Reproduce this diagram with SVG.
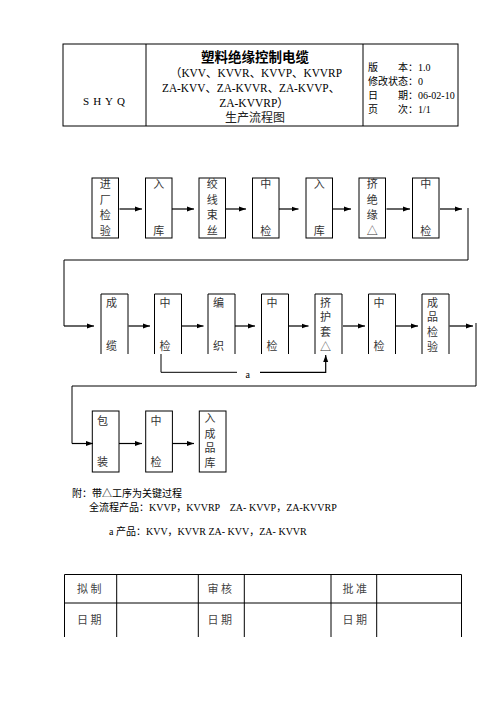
<svg xmlns="http://www.w3.org/2000/svg" width="496" height="702" viewBox="0 0 496 702">
<defs>
<marker id="ah" markerUnits="userSpaceOnUse" markerWidth="8" markerHeight="6" refX="7" refY="3" orient="auto">
<path d="M0,0.5 L7,3 L0,5.5 Z" fill="#000"/>
</marker>
<style>
.ln{fill:none;stroke:#000;stroke-width:1}
.ar{fill:none;stroke:#000;stroke-width:1.2;marker-end:url(#ah)}
.bx{fill:#fff;stroke:#000;stroke-width:1}
.ob{fill:none;stroke:#000;stroke-width:1}
.t{font-family:"Liberation Serif","Noto Sans CJK SC",serif;fill:#000}
.n{font-family:"Noto Sans CJK SC",sans-serif;font-size:11px;fill:#333;text-anchor:middle}
.s{font-family:"Liberation Serif","Noto Sans CJK SC",serif;font-size:10px;fill:#000}
.f{font-family:"Noto Sans CJK SC",sans-serif;font-size:11px;fill:#444}
</style>
</defs>
<rect width="496" height="702" fill="#fff"/>

<g id="header">
<rect x="63" y="44" width="395" height="82" class="ln"/>
<line x1="146" y1="44" x2="146" y2="126" class="ln"/>
<line x1="363" y1="44" x2="363" y2="126" class="ln"/>
<text x="106" y="105" class="t" font-size="11" text-anchor="middle" letter-spacing="4">SHYQ</text>
<text x="255" y="62" font-family="Noto Sans CJK SC,sans-serif" font-size="13.5" font-weight="bold" text-anchor="middle">塑料绝缘控制电缆</text>
<text x="170" y="77" class="t" font-size="11.5" textLength="172" lengthAdjust="spacingAndGlyphs">（KVV、KVVR、KVVP、KVVRP</text>
<text x="162" y="92" class="t" font-size="11.5" textLength="178" lengthAdjust="spacingAndGlyphs">ZA-KVV、ZA-KVVR、ZA-KVVP、</text>
<text x="254" y="107" class="t" font-size="11.5" text-anchor="middle">ZA-KVVRP）</text>
<text x="255" y="122" font-family="Noto Sans CJK SC,sans-serif" font-size="12" text-anchor="middle" fill="#222">生产流程图</text>
<text x="368" y="71" class="t" font-size="10" xml:space="preserve">版　　本：1.0</text>
<text x="368" y="85" class="t" font-size="10">修改状态：0</text>
<text x="368" y="99" class="t" font-size="10" xml:space="preserve">日　　期：06-02-10</text>
<text x="368" y="113" class="t" font-size="10" xml:space="preserve">页　　次：1/1</text>
</g>

<g id="n1"><rect x="92" y="178" width="26.5" height="60" class="bx"/>
<text class="n" x="105.3" y="188">进</text><text class="n" x="105.3" y="203.5">厂</text><text class="n" x="105.3" y="219">检</text><text class="n" x="105.3" y="234.5">验</text></g>
<g id="n2"><rect x="145.5" y="178" width="26.5" height="60" class="bx"/>
<text class="n" x="158.8" y="188">入</text><text class="n" x="158.8" y="234.5">库</text></g>
<g id="n3"><rect x="199" y="178" width="26.5" height="60" class="bx"/>
<text class="n" x="212.3" y="188">绞</text><text class="n" x="212.3" y="203.5">线</text><text class="n" x="212.3" y="219">束</text><text class="n" x="212.3" y="234.5">丝</text></g>
<g id="n4"><rect x="252.5" y="178" width="26.5" height="60" class="bx"/>
<text class="n" x="265.8" y="188">中</text><text class="n" x="265.8" y="234.5">检</text></g>
<g id="n5"><rect x="306" y="178" width="26.5" height="60" class="bx"/>
<text class="n" x="319.3" y="188">入</text><text class="n" x="319.3" y="234.5">库</text></g>
<g id="n6"><rect x="359" y="178" width="26.5" height="60" class="bx"/>
<text class="n" x="372.3" y="188">挤</text><text class="n" x="372.3" y="203.5">绝</text><text class="n" x="372.3" y="219">缘</text><text class="n" x="372.3" y="234.5">△</text></g>
<g id="n7"><rect x="412.5" y="178" width="26.5" height="60" class="bx"/>
<text class="n" x="425.8" y="188">中</text><text class="n" x="425.8" y="234.5">检</text></g>

<g id="n8"><path d="M101,354 V294 H128 V354" class="ob"/>
<text class="n" x="111.5" y="307">成</text><text class="n" x="111.5" y="350">缆</text></g>
<g id="n9"><path d="M154.5,354 V294 H181.5 V354" class="ob"/>
<text class="n" x="165" y="307">中</text><text class="n" x="165" y="350">检</text></g>
<g id="n10"><path d="M208,354 V294 H235 V354" class="ob"/>
<text class="n" x="218.5" y="307">编</text><text class="n" x="218.5" y="350">织</text></g>
<g id="n11"><path d="M261.5,354 V294 H288.5 V354" class="ob"/>
<text class="n" x="272" y="307">中</text><text class="n" x="272" y="350">检</text></g>
<g id="n12"><path d="M315,354 V294 H342 V354" class="ob"/>
<text class="n" x="325.5" y="306.5" font-size="10.5">挤</text><text class="n" x="325.5" y="321" font-size="10.5">护</text><text class="n" x="325.5" y="335.5" font-size="10.5">套</text><text class="n" x="325.5" y="350.5" font-size="10.5">△</text></g>
<g id="n13"><path d="M368.5,354 V294 H395.5 V354" class="ob"/>
<text class="n" x="379" y="307">中</text><text class="n" x="379" y="350">检</text></g>
<g id="n14"><path d="M422,354 V294 H449 V354" class="ob"/>
<text class="n" x="432.5" y="306.5" font-size="10.5">成</text><text class="n" x="432.5" y="321" font-size="10.5">品</text><text class="n" x="432.5" y="335.5" font-size="10.5">检</text><text class="n" x="432.5" y="350.5" font-size="10.5">验</text></g>

<g id="n15"><rect x="92.3" y="411" width="26.7" height="61" class="bx"/>
<text class="n" x="102.5" y="425">包</text><text class="n" x="102.5" y="466">装</text></g>
<g id="n16"><rect x="145.7" y="411" width="26.7" height="61" class="bx"/>
<text class="n" x="156" y="425">中</text><text class="n" x="156" y="466">检</text></g>
<g id="n17"><rect x="199.3" y="411" width="26.7" height="61" class="bx"/>
<text class="n" x="210" y="422" font-size="10.5">入</text><text class="n" x="210" y="437.5" font-size="10.5">成</text><text class="n" x="210" y="452" font-size="10.5">品</text><text class="n" x="210" y="466.5" font-size="10.5">库</text></g>

<g id="connectors">
<line x1="119.5" y1="209" x2="142" y2="209" class="ar"/>
<line x1="172" y1="209" x2="194" y2="209" class="ar"/>
<line x1="225.5" y1="209" x2="246" y2="209" class="ar"/>
<line x1="279" y1="209" x2="298.5" y2="209" class="ar"/>
<line x1="332.5" y1="209" x2="351" y2="209" class="ar"/>
<line x1="386.5" y1="209" x2="410" y2="209" class="ar"/>
<line x1="440" y1="209" x2="462" y2="209" class="ar"/>
<polyline points="468,208 468,260 64,260 64,326" class="ln"/>
<line x1="64" y1="326" x2="94" y2="326" class="ar"/>
<line x1="128.5" y1="326" x2="150" y2="326" class="ar"/>
<line x1="181.5" y1="326" x2="203.5" y2="326" class="ar"/>
<line x1="235" y1="326" x2="255" y2="326" class="ar"/>
<line x1="288.5" y1="326" x2="308.5" y2="326" class="ar"/>
<line x1="343" y1="326" x2="365" y2="326" class="ar"/>
<line x1="396" y1="326" x2="418" y2="326" class="ar"/>
<line x1="449.5" y1="326" x2="473" y2="326" class="ar"/>
<polyline points="476,323 476,386 72,386 72,443.5" class="ln"/>
<line x1="72" y1="443.5" x2="93" y2="443.5" class="ar"/>
<line x1="119" y1="443.5" x2="142" y2="443.5" class="ar"/>
<line x1="172.4" y1="443.5" x2="194" y2="443.5" class="ar"/>
<polyline points="161,354 161,372.3 237,372.3" class="ln"/>
<polyline points="260,372.3 325.7,372.3 325.7,355" class="ar"/>
<text x="247.7" y="378" class="s" font-size="8" text-anchor="middle">a</text>
</g>

<g id="notes">
<text x="72" y="497" class="s">附：带△工序为关键过程</text>
<text x="89" y="511" class="s" xml:space="preserve">全流程产品：KVVP，KVVRP　ZA- KVVP，ZA-KVVRP</text>
<text x="109" y="535" class="s">a 产品：KVV，KVVR ZA- KVV，ZA- KVVR</text>
</g>

<g id="signtable">
<line x1="64.5" y1="574.5" x2="461.5" y2="574.5" class="ln"/>
<line x1="64.5" y1="603" x2="461.5" y2="603" class="ln"/>
<line x1="64.5" y1="574.5" x2="64.5" y2="637" class="ln"/>
<line x1="116.7" y1="574.5" x2="116.7" y2="637" class="ln"/>
<line x1="198.3" y1="574.5" x2="198.3" y2="637" class="ln"/>
<line x1="244.3" y1="574.5" x2="244.3" y2="637" class="ln"/>
<line x1="331" y1="574.5" x2="331" y2="637" class="ln"/>
<line x1="376.7" y1="574.5" x2="376.7" y2="637" class="ln"/>
<line x1="461.5" y1="574.5" x2="461.5" y2="637" class="ln"/>
<text x="77" y="593" class="f" xml:space="preserve">拟 制</text>
<text x="77" y="624" class="f" xml:space="preserve">日 期</text>
<text x="207.5" y="593" class="f" xml:space="preserve">审 核</text>
<text x="207.5" y="624" class="f" xml:space="preserve">日 期</text>
<text x="342.5" y="593" class="f" xml:space="preserve">批 准</text>
<text x="342.5" y="624" class="f" xml:space="preserve">日 期</text>
</g>
</svg>
